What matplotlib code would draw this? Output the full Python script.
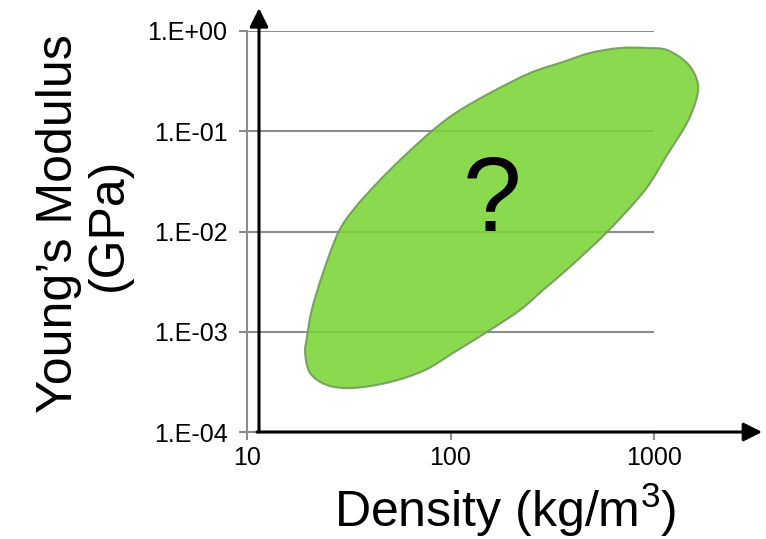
import matplotlib
matplotlib.use("Agg")
import matplotlib.pyplot as plt
import numpy as np
from matplotlib.patches import PathPatch
from matplotlib.path import Path
from matplotlib.ticker import FixedLocator, FixedFormatter, NullLocator

plt.rcParams['font.family'] = ['Liberation Sans', 'DejaVu Sans']
plt.rcParams['mathtext.fontset'] = 'custom'
plt.rcParams['mathtext.rm'] = 'Liberation Sans'
plt.rcParams['mathtext.it'] = 'Liberation Sans'

# outline of the material region (density kg/m3, modulus GPa)
blob_density = [107.6, 156.3, 246, 357, 485, 681, 925, 1159, 1452, 1626, 1626, 1452,
                1159, 903, 588, 386, 285, 220, 151, 102.8, 75.0, 50.5, 33.2, 24.7,
                20.4, 19.3, 19.7, 20.8, 23.6, 28.0, 33.2, 43.6, 58.5, 82.0]
blob_modulus = [0.1556, 0.241, 0.381, 0.491, 0.604, 0.677, 0.677, 0.646, 0.480, 0.324,
                0.220, 0.121, 0.0580, 0.0259, 0.00989, 0.00443, 0.00261, 0.00165,
                0.000995, 0.000614, 0.000415, 0.000315, 0.000275, 0.000294,
                0.000388, 0.000614, 0.000887, 0.00165, 0.00385, 0.00966, 0.01637,
                0.0305, 0.0553, 0.1028]

x_ticks = [10, 100, 1000]
x_labels = ["10", "100", "1000"]
y_ticks = [1e-4, 1e-3, 1e-2, 1e-1, 1e0]
y_labels = ["1.E-04", "1.E-03", "1.E-02", "1.E-01", "1.E+00"]

grey = '#8c8c8c'


def smooth_closed_path(xs, ys):
    # closed cubic bezier through the outline points, built in log space
    p = np.column_stack([np.log10(xs), np.log10(ys)])
    n = len(p)
    verts = [p[0]]
    codes = [Path.MOVETO]
    for i in range(n):
        p0, p1, p2, p3 = p[i - 1], p[i], p[(i + 1) % n], p[(i + 2) % n]
        verts += [p1 + (p2 - p0) / 6, p2 - (p3 - p1) / 6, p2]
        codes += [Path.CURVE4] * 3
    return Path(10 ** np.array(verts), codes)


fig = plt.figure(figsize=(7.66, 5.39), dpi=100)
ax = fig.add_axes([0.3225, 0.1985, 0.8538 - 0.3225, 0.9425 - 0.1985])
ax.set_xscale('log')
ax.set_yscale('log')
ax.set_xlim(10, 1000)
ax.set_ylim(1e-4, 1e0)

ax.xaxis.set_major_locator(FixedLocator(x_ticks))
ax.xaxis.set_major_formatter(FixedFormatter(x_labels))
ax.xaxis.set_minor_locator(NullLocator())
ax.yaxis.set_major_locator(FixedLocator(y_ticks))
ax.yaxis.set_major_formatter(FixedFormatter(y_labels))
ax.yaxis.set_minor_locator(NullLocator())
ax.tick_params(axis='both', which='major', labelsize=18, color=grey,
               width=1.5, length=6)
ax.tick_params(axis='y', pad=8)
ax.tick_params(axis='x', pad=4)

for side in ['top', 'right']:
    ax.spines[side].set_visible(False)
for side in ['left', 'bottom']:
    ax.spines[side].set_color(grey)
    ax.spines[side].set_linewidth(1.5)

ax.grid(axis='y', color=grey, linewidth=1.5, zorder=1)
ax.set_axisbelow(True)

blob = PathPatch(smooth_closed_path(blob_density, blob_modulus),
                 facecolor='#7ad435', alpha=0.88, edgecolor='#6f9a55',
                 linewidth=1.5, zorder=2, clip_on=False)
ax.add_patch(blob)

ax.text(160, 0.0192, "?", fontsize=76, ha='center', va='center', zorder=3)

# axis arrows drawn past the plot area
arrow_kw = dict(arrowstyle='-|>', lw=2.2, color='black', mutation_scale=28,
                shrinkA=0, shrinkB=0)
ax.annotate("", xy=(11.45, 1.69), xytext=(11.45, 1e-4),
            arrowprops=arrow_kw, annotation_clip=False, zorder=4)
ax.annotate("", xy=(3400, 1e-4), xytext=(11.2, 1e-4),
            arrowprops=arrow_kw, annotation_clip=False, zorder=4)

fig.text(84 / 766, 1 - 224 / 539, "Young\u2019s Modulus\n(GPa)", fontsize=36,
         rotation=90, ha='center', va='center', linespacing=1.1)
fig.text(505 / 766, 1 - 527 / 539, "Density (kg/m$^3$)", fontsize=36,
         ha='center', va='baseline')

fig.savefig("out.png", dpi=100)
